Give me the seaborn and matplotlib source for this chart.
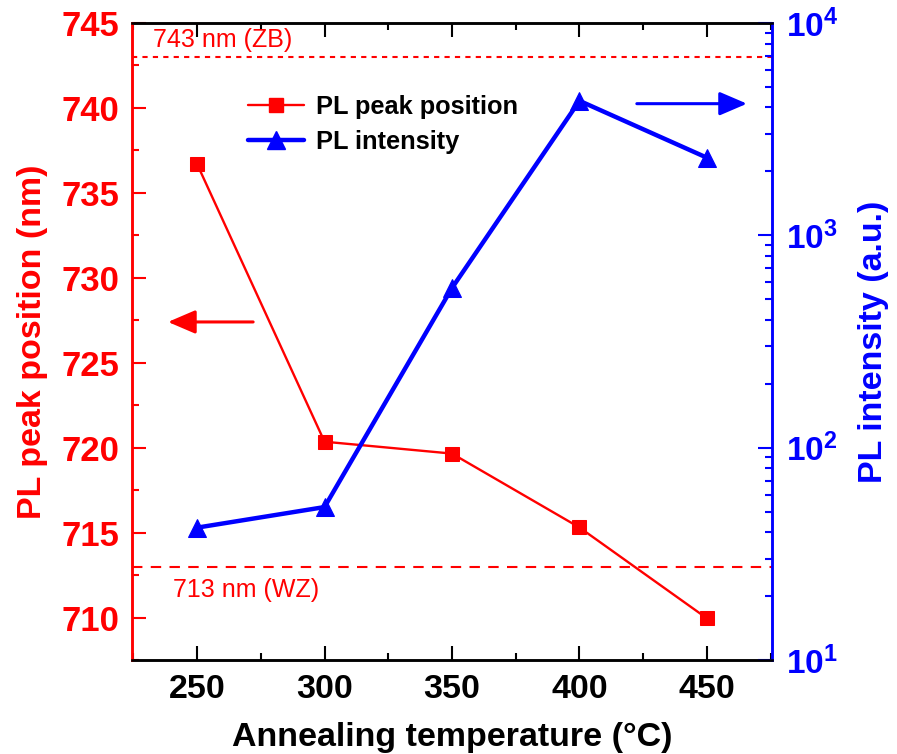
import matplotlib
matplotlib.use("Agg")
import matplotlib.pyplot as plt
import seaborn as sns
import numpy as np
import pandas as pd
from matplotlib.ticker import MultipleLocator, LogLocator, FuncFormatter, NullFormatter
from matplotlib.lines import Line2D

temperature = [250, 300, 350, 400, 450]
peak_position = [736.7, 720.35, 719.65, 715.3, 709.95]
pl_intensity = [42, 52.5, 565, 4300, 2320]
zb_line = 743
wz_line = 713

sns.set_theme(style="white")
plt.rcParams['font.family'] = ['Liberation Sans', 'DejaVu Sans']
plt.rcParams['mathtext.fontset'] = 'custom'
plt.rcParams['mathtext.rm'] = 'Liberation Sans'
plt.rcParams['mathtext.bf'] = 'Liberation Sans:bold'
plt.rcParams['text.color'] = 'black'
plt.rcParams['axes.labelcolor'] = 'black'

df = pd.DataFrame({"T": temperature, "peak": peak_position, "inten": pl_intensity})

fig = plt.figure(figsize=(8.97, 7.54), dpi=100)
ax = fig.add_axes([0.1472, 0.1247, 0.7134, 0.8448])
ax2 = ax.twinx()

sns.lineplot(data=df, x="T", y="peak", ax=ax, color="red", marker="s", markersize=10,
             markeredgecolor="red", linewidth=1.7, label="PL peak position", legend=False)
sns.lineplot(data=df, x="T", y="inten", ax=ax2, color="blue", marker="^", markersize=13,
             markeredgecolor="blue", linewidth=3.2, label="PL intensity", legend=False)

ax.axhline(zb_line, color="red", linestyle=(0, (2.5, 2.5)), linewidth=1.5)
ax.axhline(wz_line, color="red", linestyle=(0, (5, 4)), linewidth=1.5)
ax.text(232.7, 744.0, "743 nm (ZB)", color="red", fontsize=18, va="center", ha="left")
ax.text(240.6, 711.6, "713 nm (WZ)", color="red", fontsize=18, va="center", ha="left")

ax.set_xlim(224.5, 475.5)
ax.set_ylim(707.5, 745)
ax2.set_yscale("log")
ax2.set_ylim(10, 1e4)

ax.xaxis.set_major_locator(MultipleLocator(50))
ax.xaxis.set_minor_locator(MultipleLocator(25))
ax.yaxis.set_major_locator(MultipleLocator(5))
ax.yaxis.set_minor_locator(MultipleLocator(2.5))
ax2.yaxis.set_major_locator(LogLocator(base=10, numticks=10))
ax2.yaxis.set_minor_locator(LogLocator(base=10, subs=np.arange(2, 10), numticks=10))
ax2.yaxis.set_minor_formatter(NullFormatter())
ax2.yaxis.set_major_formatter(FuncFormatter(lambda v, p: r"$\mathbf{10^{%d}}$" % int(round(np.log10(v)))))

ax.tick_params(axis="x", which="both", direction="in", top=True, bottom=True, colors="black",
               labelcolor="black", width=1.5, labelsize=24.5, pad=10)
ax.tick_params(axis="x", which="major", length=10)
ax.tick_params(axis="x", which="minor", length=5)
ax.tick_params(axis="y", which="both", direction="in", left=True, right=False, colors="red",
               width=1.5, labelsize=25, pad=9)
ax.tick_params(axis="y", which="major", length=10)
ax.tick_params(axis="y", which="minor", length=5)
ax2.tick_params(axis="y", which="both", direction="in", right=True, left=False, colors="blue",
                width=1.5, labelsize=24, pad=10)
ax2.tick_params(axis="y", which="major", length=10)
ax2.tick_params(axis="y", which="minor", length=5)

for lab in ax.get_xticklabels() + ax.get_yticklabels():
    lab.set_fontweight("bold")

for a in (ax, ax2):
    for s in a.spines.values():
        s.set_linewidth(1.8)
        s.set_visible(True)
    a.spines["top"].set_color("black")
    a.spines["bottom"].set_color("black")
    a.spines["left"].set_color("red")
    a.spines["right"].set_color("blue")
ax.grid(False)
ax2.grid(False)

ax.set_xlabel("Annealing temperature (°C)", fontsize=24.5, fontweight="bold", color="black", labelpad=12)
ax.set_ylabel("PL peak position (nm)", fontsize=24.5, fontweight="bold", color="red", labelpad=10)
ax2.set_ylabel("PL intensity (a.u.)", fontsize=24.5, fontweight="bold", color="blue", labelpad=14)

# direction arrows
ax.annotate("", xy=(238.6, 727.4), xytext=(272, 727.4),
            arrowprops=dict(arrowstyle="-|>,head_length=1.4,head_width=0.6", color="red", lw=2.2,
                            shrinkA=0, shrinkB=0))
ax.annotate("", xy=(465.7, 740.25), xytext=(422.5, 740.25),
            arrowprops=dict(arrowstyle="-|>,head_length=1.4,head_width=0.6", color="blue", lw=2.2,
                            shrinkA=0, shrinkB=0))

handles = [Line2D([], [], color="red", marker="s", markersize=10, linewidth=1.7),
           Line2D([], [], color="blue", marker="^", markersize=13, linewidth=3.2)]
leg = ax2.legend(handles, ["PL peak position", "PL intensity"], loc="upper left",
                 bbox_to_anchor=(0.166, 0.903), frameon=False, handlelength=2.2,
                 prop=dict(size=18.3, weight="bold"), labelspacing=0.42, handletextpad=0.45,
                 borderaxespad=0)
for t in leg.get_texts():
    t.set_color("black")

fig.savefig("out.png", dpi=100)
